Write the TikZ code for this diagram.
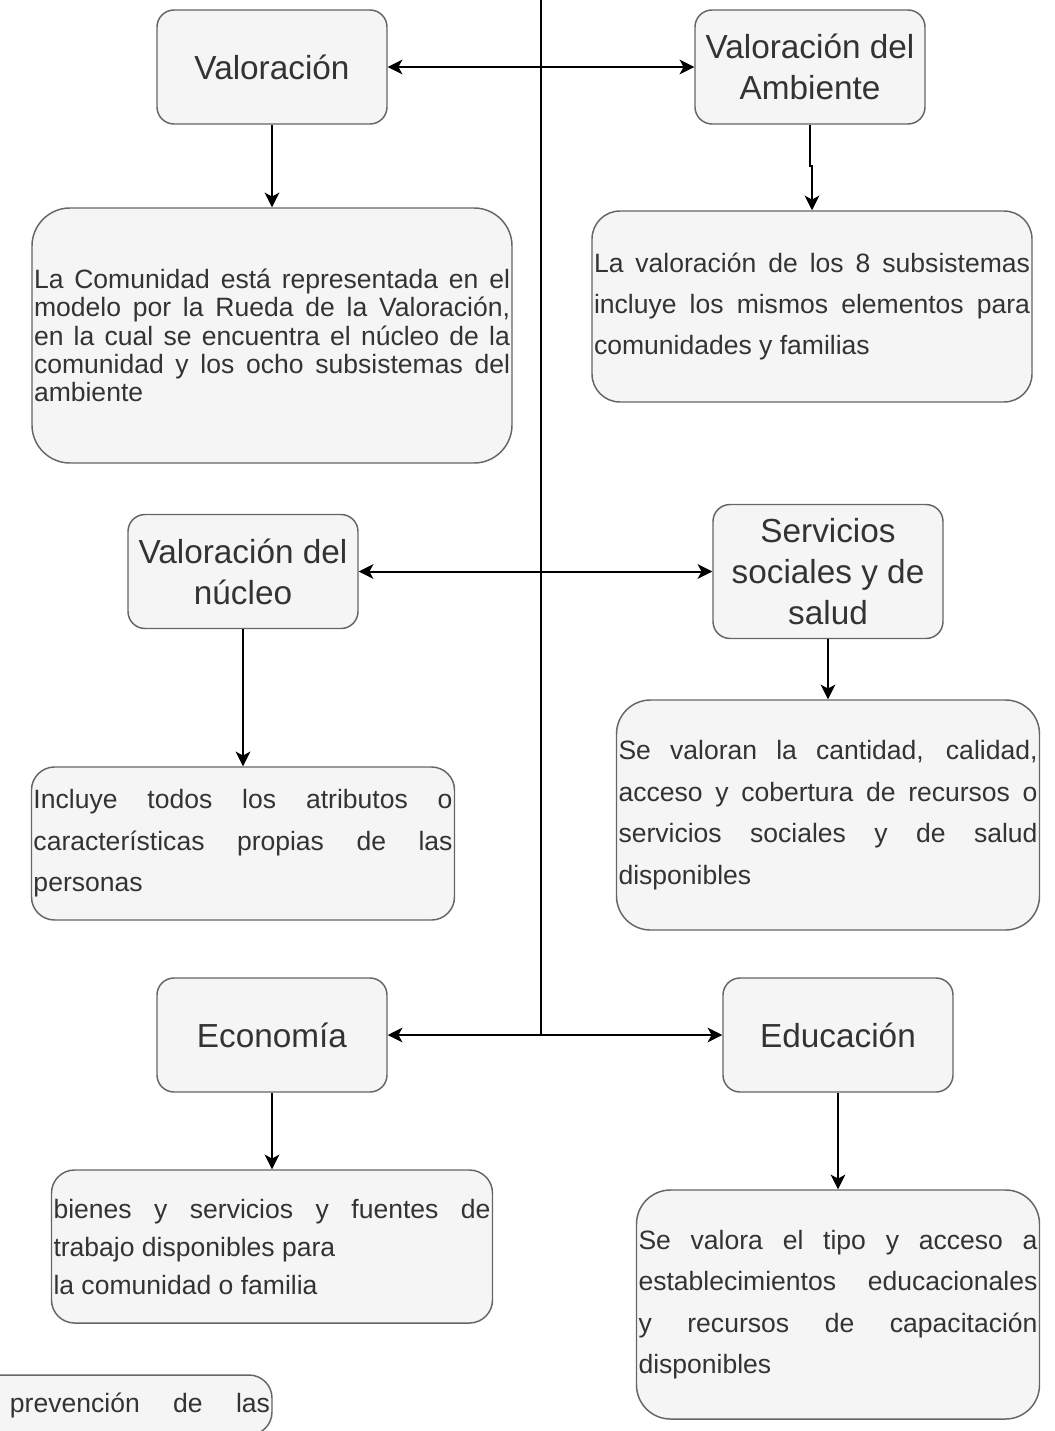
\documentclass[tikz,border=0pt]{standalone}
\usepackage{fontspec}
\setmainfont{Liberation Sans}
\usetikzlibrary{arrows.meta}
\tolerance=9999
\hyphenpenalty=10000
\hbadness=10000

\definecolor{boxfill}{HTML}{F5F5F5}
\definecolor{boxline}{HTML}{666666}
\definecolor{boxtext}{HTML}{333333}

\tikzset{
  titlebox/.style={rectangle, rounded corners=12.75pt, draw=boxline, fill=boxfill,
    text=boxtext, line width=1.1pt, minimum width=172.5pt, minimum height=85.5pt,
    inner sep=0pt, align=center, font=\fontsize{25}{30.75}\selectfont},
  textbox/.style={rectangle, draw=boxline, fill=boxfill, text=boxtext,
    line width=1.1pt, inner sep=0pt, align=justify,
    font=\fontsize{19.9}{31.1}\selectfont},
}

\begin{document}
\begin{tikzpicture}[x=.75pt,y=-.75pt,>={Stealth[length=11pt,width=11pt,inset=3pt]}]
        \useasboundingbox (0,0) rectangle (1054,1431);
        \clip (0,0) rectangle (1054,1431);

        \coordinate (top) at (541,0);
        \coordinate (hub) at (541,1035);

        \begin{scope}[every node/.style={titlebox}]
          \node (v1) at (272,67)    {Valoración};
          \node (v2) at (810,67)    {Valoración del\\Ambiente};
          \node (n1) at (243,571.5) {Valoración del\\núcleo};
          \node (s1) at (828,571.5) [minimum height=100.5pt] {Servicios\\sociales y de\\salud};
          \node (e1) at (272,1035)  {Economía};
          \node (e2) at (838,1035)  {Educación};
        \end{scope}

        \begin{scope}[every node/.style={textbox}]
          \node (t1) at (272,335.5) [minimum width=360pt, minimum height=191.25pt, text width=357pt,
            rounded corners=28.5pt, font=\fontsize{19.9}{21.2}\selectfont]
            {La Comunidad está representada en el\linebreak
             modelo por la Rueda de la Valoración,\linebreak
             en la cual se encuentra el núcleo de la\linebreak
             comunidad y los ocho subsistemas del\linebreak
             ambiente};
          \node (t2) at (812,306.5) [minimum width=330pt, minimum height=143.25pt, text width=327pt,
            rounded corners=21pt]
            {La valoración de los 8 subsistemas\linebreak
             incluye los mismos elementos para\linebreak
             comunidades y familias};
          \node (t3) at (243,843.5) [minimum width=317.25pt, minimum height=114.75pt, text width=314.25pt,
            rounded corners=17.25pt]
            {Incluye todos los atributos o\linebreak
             características propias de las\linebreak
             personas};
          \node (t4) at (828,815) [minimum width=317.25pt, minimum height=172.5pt, text width=314.25pt,
            rounded corners=25.5pt]
            {Se valoran la cantidad, calidad,\linebreak
             acceso y cobertura de recursos o\linebreak
             servicios sociales y de salud\linebreak
             disponibles};
          \node (t5) at (272,1246.5) [minimum width=330.75pt, minimum height=114.75pt, text width=327.75pt,
            rounded corners=17.25pt, font=\fontsize{19.9}{28.5}\selectfont]
            {bienes y servicios y fuentes de\linebreak
             trabajo disponibles para\newline
             la comunidad o familia};
          \node (t6) at (838,1304.5) [minimum width=302.25pt, minimum height=171.75pt, text width=299.25pt,
            rounded corners=25.5pt]
            {Se valora el tipo y acceso a\linebreak
             establecimientos educacionales\linebreak
             y recursos de capacitación\linebreak
             disponibles};
          \node (t7) at (22,1405) [minimum width=375pt, minimum height=45pt, text width=372pt,
            rounded corners=17.25pt]
            {\parfillskip=0pt\hspace*{177pt}prevención\hfill de\hfill las};
        \end{scope}

        \draw[line width=1.5pt] (top) -- (hub);

        \begin{scope}[every edge/.style={draw, line width=1.5pt}]
          \path (v1) edge[<->] (v2);
          \path (n1) edge[<->] (s1);
          \path (e1) edge[<->] (e2);
          \path (v1) edge[->] (t1);
          \path (n1) edge[->] (t3);
          \path (s1) edge[->] (t4);
          \path (e1) edge[->] (t5);
          \path (e2) edge[->] (t6);
        \end{scope}
        \draw[->, line width=1.5pt] (v2.south) -- ++(0,41) -| (t2.north);

      \end{tikzpicture}
\end{document}
